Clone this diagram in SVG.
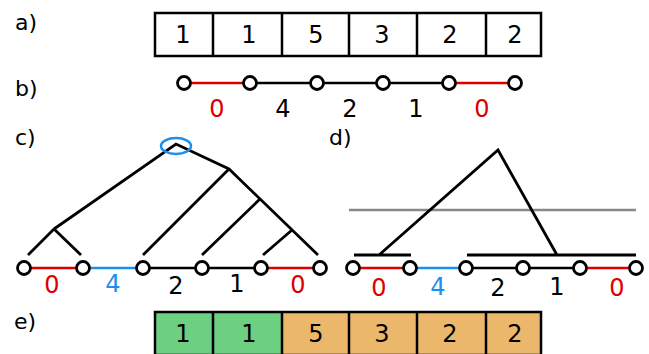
<svg xmlns="http://www.w3.org/2000/svg" width="649" height="354" viewBox="0 0 649 354">
<style>
text{font-family:"DejaVu Sans","Liberation Sans",sans-serif;font-size:24px;fill:#000}
.lbl{font-size:22px}
.num{text-anchor:middle}
.red{fill:#dd0000}
.blue{fill:#1b8ff0}
.box{fill:none;stroke:#000;stroke-width:2.5}
.ln{stroke:#000;stroke-width:2.8;fill:none;stroke-linecap:butt}
.rl{stroke:#dd0000;stroke-width:2.5}
.bl{stroke:#1b8ff0;stroke-width:2.5}
.kl{stroke:#000;stroke-width:2.5}
.nd{fill:#fff;stroke:#000;stroke-width:2.8}
</style>
<g id="labels">
<text class="lbl" x="15" y="30">a)</text>
<text class="lbl" x="15" y="96">b)</text>
<text class="lbl" x="15" y="145">c)</text>
<text class="lbl" x="329" y="145">d)</text>
<text class="lbl" x="14" y="329">e)</text>
</g>
<g id="array-a">
<rect class="box" x="155" y="13" width="386" height="43"/>
<path class="box" d="M213 13V56M282 13V56M349 13V56M417 13V56M486 13V56"/>
<text class="num" x="183" y="43">1</text>
<text class="num" x="249" y="43">1</text>
<text class="num" x="316" y="43">5</text>
<text class="num" x="382" y="43">3</text>
<text class="num" x="450" y="43">2</text>
<text class="num" x="515" y="43">2</text>
</g>
<g id="connectors">
<line class="rl" x1="184" y1="83" x2="250" y2="83"/>
<line class="kl" x1="250" y1="83" x2="449" y2="83"/>
<line class="rl" x1="449" y1="83" x2="515" y2="83"/>
<line class="rl" x1="24" y1="268" x2="83" y2="268"/>
<line class="bl" x1="83" y1="268" x2="143" y2="268"/>
<line class="kl" x1="143" y1="268" x2="261" y2="268"/>
<line class="rl" x1="261" y1="268" x2="320" y2="268"/>
<line class="rl" x1="353" y1="268" x2="410" y2="268"/>
<line class="bl" x1="410" y1="268" x2="466" y2="268"/>
<line class="kl" x1="466" y1="268" x2="580" y2="268"/>
<line class="rl" x1="580" y1="268" x2="636" y2="268"/>
</g>
<g id="tree-c">
<path class="ln" d="M54 229L176 144L229 169L318 255M54 229L28 255M54 229L81 255M229 169L143 255M260 199L202 255M292 230L263 255"/>
<ellipse cx="176" cy="146" rx="15" ry="8" fill="none" stroke="#1b8ff0" stroke-width="2.5"/>
</g>
<g id="tree-d">
<line x1="349" y1="210" x2="636" y2="210" stroke="#888" stroke-width="2.5"/>
<path class="ln" d="M379 255L498 150L557 255M354 255H411M467 255H636"/>
</g>
<g id="nodes-b">
<circle class="nd" cx="184" cy="83" r="6.5"/>
<circle class="nd" cx="250" cy="83" r="6.5"/>
<circle class="nd" cx="317" cy="83" r="6.5"/>
<circle class="nd" cx="383" cy="83" r="6.5"/>
<circle class="nd" cx="449" cy="83" r="6.5"/>
<circle class="nd" cx="515" cy="83" r="6.5"/>
<text class="num red" x="217" y="117">0</text>
<text class="num" x="283" y="117">4</text>
<text class="num" x="350" y="117">2</text>
<text class="num" x="416" y="117">1</text>
<text class="num red" x="482" y="117">0</text>
</g>
<g id="nodes-c">
<circle class="nd" cx="24" cy="268" r="6.5"/>
<circle class="nd" cx="83" cy="268" r="6.5"/>
<circle class="nd" cx="143" cy="268" r="6.5"/>
<circle class="nd" cx="202" cy="268" r="6.5"/>
<circle class="nd" cx="261" cy="268" r="6.5"/>
<circle class="nd" cx="320" cy="268" r="6.5"/>
<text class="num red" x="52" y="293">0</text>
<text class="num blue" x="113" y="292">4</text>
<text class="num" x="176" y="294">2</text>
<text class="num" x="237" y="292">1</text>
<text class="num red" x="298" y="293">0</text>
</g>
<g id="nodes-d">
<circle class="nd" cx="353" cy="268" r="6.5"/>
<circle class="nd" cx="410" cy="268" r="6.5"/>
<circle class="nd" cx="466" cy="268" r="6.5"/>
<circle class="nd" cx="523" cy="268" r="6.5"/>
<circle class="nd" cx="580" cy="268" r="6.5"/>
<circle class="nd" cx="636" cy="268" r="6.5"/>
<text class="num red" x="379" y="296">0</text>
<text class="num blue" x="438" y="295">4</text>
<text class="num" x="498" y="296">2</text>
<text class="num" x="557" y="295">1</text>
<text class="num red" x="617" y="296">0</text>
</g>
<g id="array-e">
<rect x="155" y="312" width="127" height="43" fill="#6ccf82"/>
<rect x="282" y="312" width="259" height="43" fill="#ebb86b"/>
<rect class="box" x="155" y="312" width="386" height="43"/>
<path class="box" d="M213 312V355M282 312V355M349 312V355M417 312V355M486 312V355"/>
<text class="num" x="183" y="342">1</text>
<text class="num" x="249" y="342">1</text>
<text class="num" x="316" y="342">5</text>
<text class="num" x="382" y="342">3</text>
<text class="num" x="450" y="342">2</text>
<text class="num" x="515" y="342">2</text>
</g>
</svg>
